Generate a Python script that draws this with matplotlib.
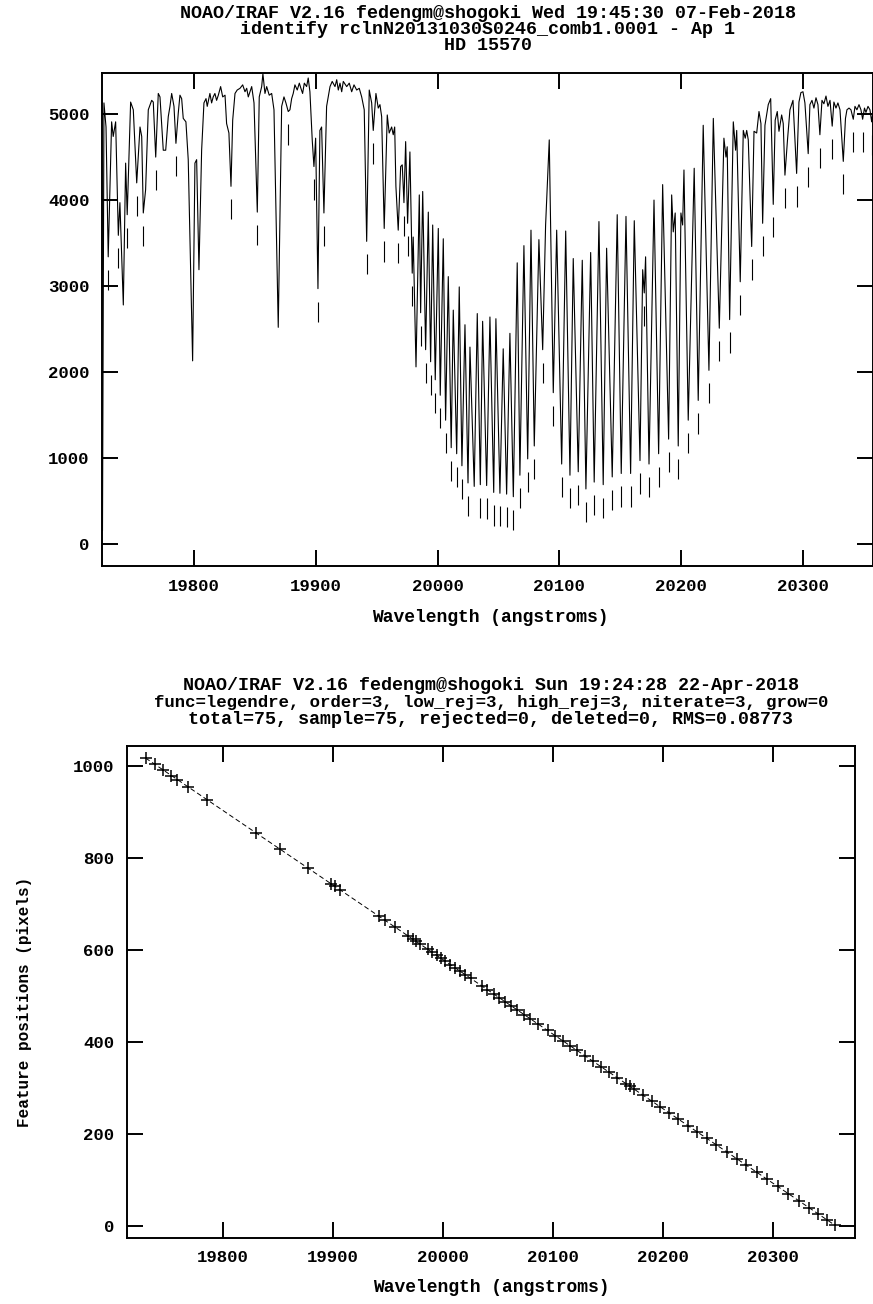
import numpy as np
import matplotlib
matplotlib.use("Agg")
import matplotlib.pyplot as plt

# ---------------- data: spectrum (top panel) ----------------
spec_w = [19724.9, 19726.1, 19727.8, 19729.6, 19732.4, 19733.7, 19735.7, 19737.9, 19739.2, 19742.0,
          19743.9, 19745.2, 19748.0, 19750.2, 19753.0, 19755.7, 19757.1, 19758.4, 19760.3, 19762.5,
          19765.3, 19766.6, 19768.6, 19770.7, 19772.1, 19774.8, 19776.8, 19778.9, 19780.3, 19781.7,
          19783.6, 19785.2, 19787.1, 19788.5, 19789.9, 19791.2, 19793.4, 19795.3, 19798.9, 19800.8,
          19802.2, 19804.1, 19806.3, 19808.2, 19809.9, 19810.9, 19813.1, 19814.5, 19815.8, 19817.2,
          19818.6, 19820.0, 19821.9, 19823.6, 19825.5, 19826.8, 19828.7, 19830.4, 19831.8, 19833.7,
          19835.5, 19837.8, 19840.0, 19841.9, 19843.3, 19844.6, 19847.4, 19849.3, 19852.0, 19853.6,
          19855.6, 19856.6, 19858.3, 19859.7, 19861.8, 19863.8, 19865.7, 19869.2, 19872.0, 19873.9,
          19875.5, 19877.4, 19878.8, 19880.2, 19881.5, 19882.9, 19884.8, 19886.5, 19887.8, 19889.2,
          19890.6, 19892.5, 19893.8, 19895.2, 19897.1, 19898.5, 19899.9, 19901.8, 19903.4, 19904.8,
          19906.7, 19908.9, 19911.7, 19913.5, 19915.8, 19917.2, 19918.5, 19919.9, 19921.3, 19922.6,
          19925.4, 19927.5, 19929.5, 19931.4, 19933.6, 19935.7, 19937.7, 19939.8, 19941.8, 19943.9,
          19945.9, 19947.2, 19949.4, 19951.3, 19952.7, 19954.1, 19956.2, 19958.7, 19960.3, 19962.3,
          19963.6, 19964.8, 19965.8, 19967.7, 19969.7, 19971.0, 19972.4, 19973.8, 19975.4, 19977.3,
          19979.2, 19980.0, 19982.3, 19985.0, 19986.1, 19987.8, 19990.2, 19992.4, 19994.3, 19996.0,
          19998.1, 20000.6, 20002.2, 20004.7, 20006.6, 20008.8, 20011.2, 20012.9, 20015.7, 20017.8,
          20020.0, 20022.5, 20025.0, 20026.6, 20030.1, 20032.6, 20035.1, 20037.0, 20040.3, 20043.0,
          20046.1, 20047.9, 20051.2, 20053.9, 20056.7, 20059.4, 20062.2, 20065.4, 20067.6, 20070.9,
          20074.0, 20076.7, 20079.4, 20083.2, 20086.3, 20088.7, 20091.7, 20095.0, 20097.8, 20101.9,
          20105.2, 20108.7, 20111.4, 20115.5, 20118.8, 20121.8, 20125.7, 20128.6, 20132.5, 20136.0,
          20138.8, 20143.4, 20147.5, 20150.8, 20154.7, 20158.5, 20161.5, 20166.2, 20168.4, 20169.7,
          20170.8, 20173.6, 20177.7, 20181.5, 20184.8, 20189.7, 20192.2, 20193.5, 20195.1, 20197.6,
          20199.8, 20201.2, 20202.3, 20205.8, 20210.7, 20214.0, 20218.1, 20222.8, 20226.4, 20231.3,
          20235.1, 20236.8, 20237.8, 20239.8, 20242.8, 20244.7, 20245.6, 20248.5, 20251.0, 20252.6,
          20253.8, 20255.1, 20257.9, 20259.8, 20262.0, 20263.9, 20265.5, 20266.9, 20268.8, 20271.5,
          20273.5, 20275.6, 20277.2, 20278.9, 20280.3, 20282.5, 20283.8, 20285.2, 20287.3, 20289.3,
          20291.8, 20294.8, 20296.7, 20298.3, 20300.0, 20301.6, 20304.3, 20305.7, 20307.4, 20309.0,
          20310.7, 20312.3, 20313.9, 20315.6, 20317.2, 20318.9, 20320.5, 20322.2, 20324.0, 20325.4,
          20327.1, 20328.7, 20330.4, 20333.1, 20334.9, 20336.1, 20337.8, 20339.4, 20341.3, 20342.7,
          20344.3, 20346.0, 20347.6, 20349.0, 20350.5, 20351.7, 20353.4, 20355.0, 20356.4, 20357.5]
spec_f = [160, 5130, 4850, 3340, 4910, 4740, 4910, 3590, 3970, 2780,
          4430, 3830, 5140, 5050, 4200, 4850, 4740, 3850, 4120, 5050,
          5160, 5140, 4500, 5240, 5200, 4580, 4580, 4970, 5090, 5240,
          5090, 4660, 5010, 5220, 5180, 4950, 4910, 4470, 2130, 4430,
          4470, 3190, 4580, 5130, 5180, 5090, 5240, 5130, 5200, 5240,
          5160, 5220, 5320, 5200, 5220, 4890, 4780, 4160, 4930, 5240,
          5280, 5300, 5340, 5260, 5300, 5200, 5320, 5130, 3860, 5200,
          5320, 5470, 5240, 5320, 5220, 5240, 5050, 2520, 5090, 5200,
          5130, 5030, 5050, 5180, 5240, 5340, 5280, 5360, 5300, 5240,
          5360, 5320, 5420, 5260, 4700, 4390, 4720, 2970, 4810, 4850,
          3850, 5090, 5320, 5380, 5320, 5400, 5280, 5360, 5260, 5380,
          5320, 5360, 5260, 5340, 5280, 5300, 5200, 5050, 3520, 5280,
          5130, 4810, 5240, 5070, 5110, 4970, 3670, 4990, 4780, 4850,
          4760, 4850, 4160, 3650, 4390, 4410, 3970, 4680, 3730, 4560,
          3150, 3570, 2060, 4060, 2690, 4100, 2260, 3860, 2120, 3710,
          1910, 3670, 1730, 3550, 1440, 3110, 1120, 2720, 1050, 2990,
          910, 2550, 710, 2290, 670, 2680, 690, 2590, 680, 2640,
          600, 2620, 590, 2270, 580, 2450, 550, 3270, 800, 3470,
          990, 3650, 1140, 3540, 2260, 3710, 4700, 1760, 3650, 930,
          3640, 800, 3320, 840, 3300, 640, 3390, 720, 3750, 690,
          3440, 780, 3830, 820, 3810, 820, 3760, 970, 3190, 2920,
          3340, 930, 4000, 1050, 4180, 1220, 4060, 3630, 3850, 1140,
          3850, 3710, 4350, 1440, 4370, 1670, 4870, 2020, 4950, 2510,
          4720, 4500, 4620, 2610, 4910, 4580, 4810, 3050, 4810, 4720,
          4810, 4700, 3460, 4800, 4780, 5030, 4890, 3730, 4870, 5110,
          5180, 3950, 4930, 5030, 4800, 4990, 4890, 4290, 4700, 5050,
          5160, 4310, 5140, 5250, 5260, 5130, 4540, 5110, 5160, 5070,
          5190, 5110, 4760, 5160, 5120, 5210, 5090, 5160, 4860, 5140,
          5070, 5130, 5050, 4450, 4950, 5050, 5070, 5050, 4940, 5090,
          5050, 5110, 5050, 4940, 5070, 5020, 5090, 5050, 4910, 5050]

# identified features (wavelength, Angstrom) and their fitted pixel positions
feat_w = [19729.6, 19737.9, 19745.2, 19753.0, 19758.4, 19768.6, 19785.2, 19830.4, 19852.0, 19877.4,
          19898.5, 19901.8, 19906.7, 19941.8, 19947.2, 19956.2, 19967.7, 19972.4, 19975.4, 19979.2,
          19986.1, 19990.2, 19994.3, 19998.1, 20002.2, 20006.6, 20011.2, 20015.7, 20020.0, 20025.0,
          20035.1, 20040.3, 20046.1, 20051.2, 20056.7, 20062.2, 20067.6, 20074.0, 20079.4, 20086.3,
          20095.0, 20101.9, 20108.7, 20115.5, 20121.8, 20128.6, 20136.0, 20143.4, 20150.8, 20158.5,
          20166.2, 20169.7, 20173.6, 20181.5, 20189.7, 20197.6, 20205.8, 20214.0, 20222.8, 20231.3,
          20239.8, 20248.5, 20257.9, 20266.9, 20275.6, 20285.2, 20294.8, 20304.3, 20313.9, 20324.0,
          20333.1, 20341.3, 20349.0, 20356.4]
feat_pix = [1017.3, 1003.8, 992.0, 979.3, 970.6, 954.1, 927.2, 853.9, 818.9, 777.8,
            743.6, 738.2, 730.3, 673.4, 664.6, 650.1, 631.4, 623.8, 619.0, 612.8,
            601.6, 595.0, 588.3, 582.2, 575.5, 568.4, 560.9, 553.6, 546.7, 538.6,
            522.2, 513.8, 504.4, 496.1, 487.2, 478.3, 469.5, 459.2, 450.4, 439.2,
            425.1, 414.0, 402.9, 391.9, 381.7, 370.7, 358.7, 346.7, 334.7, 322.2,
            309.7, 304.1, 297.8, 285.0, 271.7, 258.9, 245.6, 232.3, 218.0, 204.3,
            190.5, 176.4, 161.2, 146.6, 132.5, 116.9, 101.4, 86.0, 70.4, 54.0,
            39.3, 26.0, 13.5, 1.5]

# dispersion fit curve knots
fit_w = [19729.6, 20043.0, 20356.4]
fit_pix = [1017.3, 509.4, 1.5]

top_xticks = [19800, 19900, 20000, 20100, 20200, 20300]
top_yticks = [0, 1000, 2000, 3000, 4000, 5000]
bot_yticks = [0, 200, 400, 600, 800, 1000]

top_title = ["NOAO/IRAF V2.16 fedengm@shogoki Wed 19:45:30 07-Feb-2018",
             "identify rclnN20131030S0246_comb1.0001 - Ap 1",
             "HD 15570"]
bot_title = ["NOAO/IRAF V2.16 fedengm@shogoki Sun 19:24:28 22-Apr-2018",
             "func=legendre, order=3, low_rej=3, high_rej=3, niterate=3, grow=0",
             "total=75, sample=75, rejected=0, deleted=0, RMS=0.08773"]
xlabel = "Wavelength (angstroms)"
ylabel_bot = "Feature positions (pixels)"

# ---------------- figure ----------------
W, H = 873, 1304
fig = plt.figure(figsize=(W / 100, H / 100), dpi=100)
FONT = ["Liberation Mono", "DejaVu Sans Mono"]
FS = 12.5
TFS = 13.2


def px_axes(l, t, r, b):
    return fig.add_axes([l / W, 1 - b / H, (r - l) / W, (b - t) / H])


def style(ax):
    for s in ax.spines.values():
        s.set_linewidth(1.4)
    ax.tick_params(which="major", direction="in", length=11.5, width=1.4,
                   top=True, right=True, labelsize=FS, pad=9)
    for lab in ax.get_xticklabels() + ax.get_yticklabels():
        lab.set_family(FONT)
        lab.set_weight("bold")


# top panel
ax1 = px_axes(102, 73, 873, 566)
ax1.plot(spec_w, spec_f, color="black", lw=0.8)
ff = np.interp(feat_w, spec_w, spec_f)
ax1.vlines(feat_w, ff - 150 - 235, ff - 150, color="black", lw=0.8)
ax1.set_xlim(19724.5, 20357.5)
ax1.set_ylim(-256, 5478)
ax1.set_xticks(top_xticks)
ax1.set_yticks(top_yticks)
style(ax1)

# bottom panel
ax2 = px_axes(127, 746, 855, 1238)
ax2.plot(fit_w, fit_pix, color="black", lw=0.7, ls=(0, (5, 3)))
ax2.plot(feat_w, feat_pix, ls="none", marker="+", ms=9, mew=1.1, color="black")
ax2.set_xlim(19712.7, 20374.5)
ax2.set_ylim(-26, 1043.5)
ax2.set_xticks(top_xticks)
ax2.set_yticks(bot_yticks)
style(ax2)


def ftext(x, y, s, size=FS, **kw):
    fig.text(x / W, 1 - y / H, s, ha="center", va="center", family=FONT,
             weight="bold", fontsize=size, **kw)


for i, s in enumerate(top_title):
    ftext(488, 14 + 16 * i, s, size=TFS)
for i, s in enumerate(bot_title):
    ftext(491, 686 + 16.5 * i, s, size=TFS if i != 1 else FS)
ftext(490, 617, xlabel, size=13)
ftext(491, 1287, xlabel, size=13)
ftext(25, 1002, ylabel_bot, size=11.5, rotation=90)

fig.savefig("out.png", dpi=100)
